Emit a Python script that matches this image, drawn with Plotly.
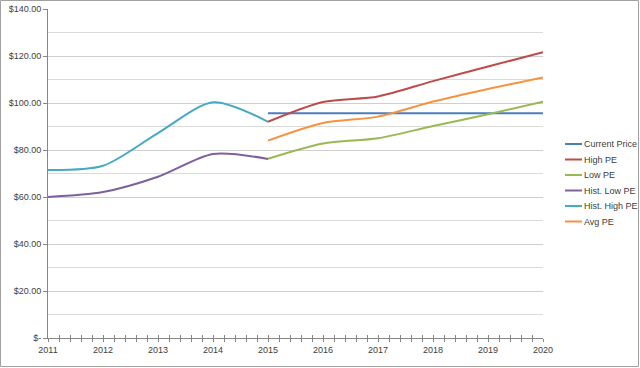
import plotly.graph_objects as go

years_hist = [2011, 2012, 2013, 2014, 2015]
years_proj = [2015, 2016, 2017, 2018, 2019, 2020]

current_price = [95.6, 95.6, 95.6, 95.6, 95.6, 95.6]
high_pe = [92.0, 100.4, 102.8, 109.3, 115.5, 121.6]
low_pe = [76.3, 82.8, 85.0, 90.2, 95.2, 100.5]
hist_low_pe = [60.0, 62.1, 68.6, 78.3, 76.2]
hist_high_pe = [71.5, 73.3, 87.2, 100.3, 92.0]
avg_pe = [84.0, 91.5, 94.2, 100.6, 106.0, 110.9]

y_ticks = [0, 20, 40, 60, 80, 100, 120, 140]
y_tick_labels = ["$-", "$20.00", "$40.00", "$60.00", "$80.00", "$100.00", "$120.00", "$140.00"]

series = [
    ("Current Price", years_proj, current_price, "#4A7EBB"),
    ("High PE", years_proj, high_pe, "#BE4B48"),
    ("Low PE", years_proj, low_pe, "#98B954"),
    ("Hist. Low PE", years_hist, hist_low_pe, "#7D60A0"),
    ("Hist. High PE", years_hist, hist_high_pe, "#46AAC5"),
    ("Avg PE", years_proj, avg_pe, "#F69240"),
]

W, H = 640, 368
L, R, T, B = 48, 97, 9, 30
PW, PH = W - L - R, H - T - B

fig = go.Figure()
for name, xs, ys, col in series:
    fig.add_trace(go.Scatter(
        x=xs, y=ys, name=name, mode="lines", showlegend=False,
        line=dict(color=col, width=2, shape="spline", smoothing=0.8),
    ))

axis_font = dict(family="Liberation Sans, Arial, sans-serif", size=9, color="#404040")

fig.update_layout(
    width=W, height=H,
    margin=dict(l=L, r=R, t=T, b=B, autoexpand=False),
    paper_bgcolor="white", plot_bgcolor="white",
    font=axis_font,
    showlegend=False,
    xaxis2=dict(overlaying="x", matches="x", side="bottom", anchor="y",
                tickmode="linear", tick0=2011, dtick=1, showticklabels=False,
                showgrid=False, zeroline=False, showline=False,
                ticks="inside", ticklen=3, tickcolor="#868686",
                minor=dict(dtick=0.2, tick0=2011, ticks="inside", ticklen=3,
                           tickcolor="#868686", showgrid=False)),
)
# invisible trace to activate the overlaid tick axis
fig.add_trace(go.Scatter(x=[2011, 2020], y=[None, None], xaxis="x2", showlegend=False,
                         hoverinfo="skip", mode="lines"))

fig.update_xaxes(
    selector=dict(overlaying=None),
)
fig.layout.xaxis.update(
    range=[2011, 2020], tickmode="linear", tick0=2011, dtick=1,
    showgrid=False, zeroline=False,
    showline=True, linecolor="#868686", linewidth=1,
    ticks="outside", ticklen=3, tickcolor="#868686",
    minor=dict(dtick=0.2, tick0=2011, ticks="outside", ticklen=3, tickcolor="#868686", showgrid=False),
    tickfont=axis_font,
)
fig.update_yaxes(
    range=[0, 140], tickvals=y_ticks, ticktext=y_tick_labels,
    showgrid=True, gridcolor="#CFCFCF", gridwidth=1,
    minor=dict(dtick=10, tick0=0, showgrid=True, gridcolor="#DADADA", gridwidth=1),
    zeroline=False,
    showline=True, linecolor="#868686", linewidth=1,
    ticks="outside", ticklen=4, tickcolor="#868686",
    tickfont=axis_font,
)

# outer chart border
fig.add_shape(type="rect", xref="paper", yref="paper",
              x0=-(L - 0.5) / PW, x1=1 + (R - 1.5) / PW, y0=-(B - 1.5) / PH, y1=1 + (T - 0.5) / PH,
              line=dict(color="#A0A0A0", width=1), fillcolor="rgba(0,0,0,0)", layer="below")

# legend (manual, to match compact spacing)
def px_x(px):
    return (px - L) / PW

def px_y(py):
    return (H - B - py) / PH

for i, (name, xs, ys, col) in enumerate(series):
    yy = 144 + i * 15.5
    fig.add_shape(type="line", xref="paper", yref="paper",
                  x0=px_x(565), x1=px_x(582), y0=px_y(yy), y1=px_y(yy),
                  line=dict(color=col, width=2))
    fig.add_annotation(xref="paper", yref="paper", x=px_x(582), y=px_y(yy),
                       text=name, showarrow=False, xanchor="left", yanchor="middle",
                       font=dict(family="Liberation Sans, Arial, sans-serif", size=9, color="#404040"))

fig.write_html("out.html", config={"displayModeBar": False},
               post_script="document.body.style.margin='0';document.body.style.overflow='hidden';")
